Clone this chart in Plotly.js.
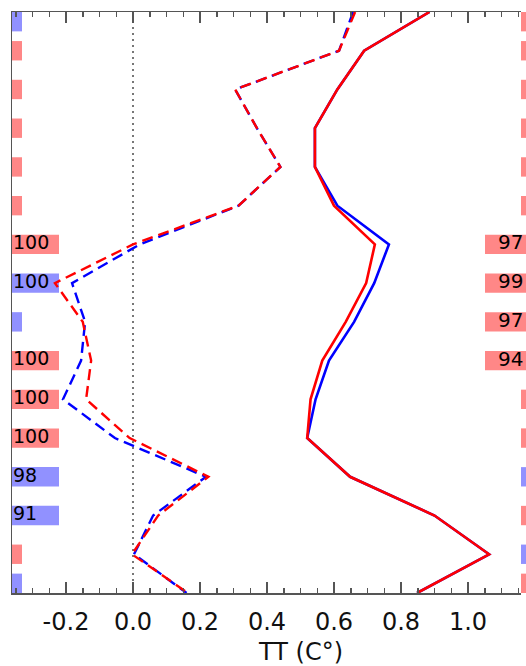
<!DOCTYPE html>
<html><head><meta charset="utf-8">
<script src="https://cdn.plot.ly/plotly-3.0.1.min.js"></script>
<style>html,body{margin:0;padding:0;overflow:hidden;background:#fff}#chart{width:526px;height:666px}</style>
</head><body><div id="chart"></div>
<script>
// ---- data ----
const levels    = [0,1,2,3,4,5,6,7,8,9,10,11,12,13,14,15];
const solidBlue = [0.885,0.69,0.61,0.543,0.543,0.61,0.764,0.72,0.66,0.585,0.545,0.52,0.648,0.90,1.063,0.848];
const solidRed  = [0.885,0.69,0.61,0.543,0.543,0.60,0.722,0.696,0.635,0.565,0.53,0.52,0.648,0.90,1.063,0.848];
const dashBlue  = [0.657,0.615,0.305,0.37,0.44,0.315,0.02,-0.182,-0.143,-0.155,-0.209,-0.054,0.218,0.06,0.003,0.16];
const dashRed   = [0.663,0.615,0.305,0.37,0.44,0.315,0.0,-0.233,-0.15,-0.125,-0.14,-0.01,0.225,0.075,-0.003,0.164];
const leftBarColor  = ['b','r','r','r','r','r','r','b','b','r','r','r','b','b','r','b'];
const leftBarLabel  = ['','','','','','','100','100','','100','100','100','98','91','',''];
const rightBarColor = ['r','r','r','r','r','r','r','r','r','r','r','r','b','r','b','r'];
const rightBarLabel = ['','','','','','','97','99','97','94','','','','','',''];
const xTickVals = [-0.2,0.0,0.2,0.4,0.6,0.8,1.0];
const xTickText = ['-0.2','0.0','0.2','0.4','0.6','0.8','1.0'];
const xTitle = 'TT (C°)';

// ---- styles / geometry ----
const PXU = 335;                 // px per data unit
const XMIN = -0.3612, XMAX = 1.1582;
const BIG = 47/PXU, SMALL = 10/PXU;
const R_BIG_START = 1.0507, R_SMALL_START = XMAX;
const X2MAX = XMIN + 514/PXU;
const cmap = {r:'rgb(255,135,135)', b:'rgb(145,145,255)'};
const nL = levels.length;
const yBar = levels.map(k => Math.min(Math.max(k, 0.25), nL-1-0.25));
const minorVals = [];
for (let i = -7; i <= 23; i++) minorVals.push(+(i*0.05).toFixed(2));
const gray = '#555';
const font = 'DejaVu Sans, sans-serif';

const traces = [
  {type:'bar', orientation:'h', y:yBar, base:levels.map(()=>XMIN),
   x:leftBarLabel.map(l=>l?BIG:SMALL), width:0.5,
   marker:{color:leftBarColor.map(c=>cmap[c]), line:{width:0}}, hoverinfo:'skip', xaxis:'x', yaxis:'y'},
  {type:'scatter', mode:'lines', x:solidBlue, y:levels, line:{color:'#0000ff', width:2.6}, xaxis:'x', yaxis:'y'},
  {type:'scatter', mode:'lines', x:solidRed, y:levels, line:{color:'#ff0000', width:2.6}, xaxis:'x', yaxis:'y'},
  {type:'scatter', mode:'lines', x:dashBlue, y:levels, line:{color:'#0000ff', width:2.4, dash:'11px,6px'}, xaxis:'x', yaxis:'y'},
  {type:'scatter', mode:'lines', x:dashRed, y:levels, line:{color:'#ff0000', width:2.4, dash:'11px,6px'}, xaxis:'x', yaxis:'y'},
  {type:'scatter', mode:'text', x:levels.map(()=>XMIN+1/PXU), y:levels, text:leftBarLabel,
   textposition:'middle right', textfont:{family:font, size:19, color:'#000'}, cliponaxis:false, hoverinfo:'skip', xaxis:'x', yaxis:'y'},
  {type:'bar', orientation:'h', y:yBar, base:rightBarLabel.map(l=>l?R_BIG_START:R_SMALL_START),
   x:rightBarLabel.map(l=>l?BIG:SMALL), width:0.5,
   marker:{color:rightBarColor.map(c=>cmap[c]), line:{width:0}}, hoverinfo:'skip', xaxis:'x2', yaxis:'y'},
  {type:'scatter', mode:'text', x:levels.map(()=>R_BIG_START+13/PXU), y:levels, text:rightBarLabel,
   textposition:'middle right', textfont:{family:font, size:20, color:'#000'}, cliponaxis:false, hoverinfo:'skip', xaxis:'x2', yaxis:'y'}
];

const layout = {
  width:526, height:666, margin:{l:12, r:0, t:12, b:73},
  paper_bgcolor:'#fff', plot_bgcolor:'rgba(0,0,0,0)',
  showlegend:false, barmode:'overlay',
  xaxis:{domain:[0, 509/514], range:[XMIN, XMAX], tickmode:'array', tickvals:xTickVals, ticktext:xTickText,
    ticks:'inside', ticklen:11, tickwidth:1.5, tickcolor:gray, showline:true, linecolor:gray, linewidth:1.5,
    mirror:'ticks', showgrid:false, zeroline:false, ticklabelstandoff:7,
    tickfont:{family:font, size:24, color:'#111'},
    minor:{tickmode:'array', tickvals:minorVals, ticks:'inside', ticklen:5, tickwidth:1.5, tickcolor:gray, showgrid:false},
    anchor:'y'},
  xaxis2:{domain:[473/514, 1], range:[R_BIG_START, X2MAX], visible:false, showgrid:false, zeroline:false, anchor:'y'},
  yaxis:{range:[nL-1, 0], showticklabels:false, ticks:'', showgrid:false, zeroline:false,
    showline:true, linecolor:gray, linewidth:1.5, anchor:'x'},
  shapes:[{type:'line', xref:'x', yref:'paper', x0:0, x1:0, y0:0, y1:1, layer:'below',
    line:{color:'#777', width:2, dash:'2px,4px'}}],
  annotations:[{text:xTitle, xref:'paper', yref:'paper', x:(300-12)/514, y:(593-652)/581,
    xanchor:'center', yanchor:'middle', showarrow:false, font:{family:font, size:24, color:'#111'}}]
};
Plotly.newPlot('chart', traces, layout, {displayModeBar:false, staticPlot:true});
</script></body></html>
